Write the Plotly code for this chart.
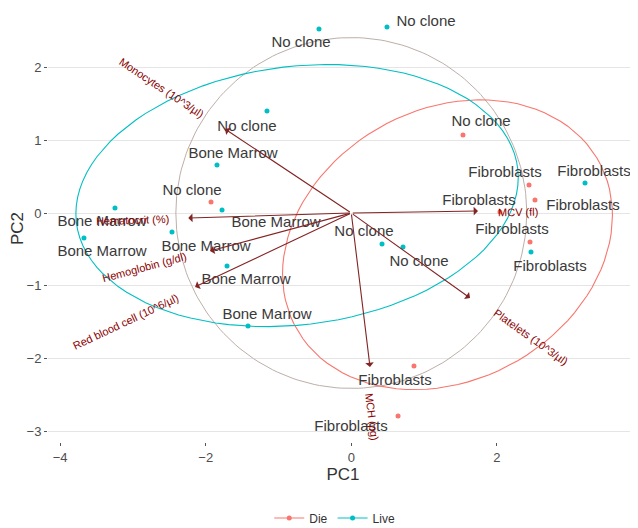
import numpy as np
import plotly.graph_objects as go

# ---------------- data ----------------
live_pc1 = [-0.444, 0.490, -1.158, -1.845, -1.776, -3.246, -3.672, -2.463, -1.707, -1.419, 0.422, 0.710, 3.210, 2.468]
live_pc2 = [2.527, 2.555, 1.401, 0.659, 0.041, 0.069, -0.343, -0.261, -0.728, -1.552, -0.426, -0.467, 0.412, -0.536]
live_labels = ["No clone", "No clone", "No clone", "Bone Marrow", "Bone Marrow", "Bone Marrow", "Bone Marrow",
               "Bone Marrow", "Bone Marrow", "Bone Marrow", "No clone", "No clone", "Fibroblasts", "Fibroblasts"]
live_label_pc1 = [-0.691, 1.026, -1.433, -1.625, -1.034, -3.424, -3.424, -1.996, -1.446, -1.158, 0.174, 0.930, 3.334, 2.729]
live_label_pc2 = [2.335, 2.624, 1.181, 0.810, -0.137, -0.124, -0.536, -0.467, -0.920, -1.401, -0.261, -0.673, 0.563, -0.742]

die_pc1 = [-1.927, 1.534, 2.441, 2.523, 2.042, 2.455, 0.861, 0.642]
die_pc2 = [0.151, 1.071, 0.385, 0.179, 0.014, -0.398, -2.102, -2.788]
die_labels = ["No clone", "No clone", "Fibroblasts", "Fibroblasts", "Fibroblasts", "Fibroblasts", "Fibroblasts", "Fibroblasts"]
die_label_pc1 = [-2.188, 1.782, 2.111, 3.182, 1.754, 2.207, 0.600, -0.004]
die_label_pc2 = [0.302, 1.250, 0.549, 0.096, 0.165, -0.234, -2.308, -2.940]

var_names = ["Monocytes (10^3/µl)", "Hematocrit (%)", "Hemoglobin (g/dl)", "Red blood cell (10^6/µl)",
             "Platelets (10^3/µl)", "MCH (pg)", "MCV (fl)"]
var_pc1 = [-1.735, -2.240, -1.941, -2.146, 1.631, 0.257, 1.740]
var_pc2 = [1.154, -0.069, -0.522, -1.016, -1.168, -2.115, 0.027]
var_label_pc1 = [-2.601, -3.010, -2.834, -3.108, 2.468, 0.284, 2.290]
var_label_pc2 = [1.717, -0.096, -0.742, -1.497, -1.703, -2.802, 0.014]

groups = ["Die", "Live"]
colors = {"Die": "#F8766D", "Live": "#00BFC4"}


def ellipse(x, y, prob=0.68, n=101):
    pts = np.column_stack([x, y])
    mu = pts.mean(axis=0)
    sigma = np.cov(pts.T)
    ed = np.sqrt(-2 * np.log(1 - prob))
    t = np.linspace(-np.pi, np.pi, n)
    circ = np.column_stack([np.cos(t), np.sin(t)])
    U = np.linalg.cholesky(sigma).T
    e = circ @ U * ed + mu
    return e[:, 0], e[:, 1]


fig = go.Figure()

# correlation circle
allx = np.array(live_pc1 + die_pc1)
ally = np.array(live_pc2 + die_pc2)
r = np.sqrt(-2 * np.log(1 - 0.69)) * (np.mean(allx ** 2) * np.mean(ally ** 2)) ** 0.25
th = np.linspace(-np.pi, np.pi, 200)
fig.add_trace(go.Scatter(x=r * np.cos(th), y=r * np.sin(th), mode="lines",
                         line=dict(color="#BDAFA9", width=1), showlegend=False, hoverinfo="skip"))

data = {"Die": (die_pc1, die_pc2, die_labels, die_label_pc1, die_label_pc2),
        "Live": (live_pc1, live_pc2, live_labels, live_label_pc1, live_label_pc2)}

for g in groups:
    x, y, lab, lx, ly = data[g]
    ex, ey = ellipse(x, y)
    fig.add_trace(go.Scatter(x=ex, y=ey, mode="lines", line=dict(color=colors[g], width=1.1),
                             showlegend=False, hoverinfo="skip"))

# arrows
for name, x, y in zip(var_names, var_pc1, var_pc2):
    fig.add_annotation(x=x, y=y, ax=0, ay=0, xref="x", yref="y", axref="x", ayref="y",
                       text="", showarrow=True, arrowhead=1, arrowsize=1.3, arrowwidth=1.1,
                       arrowcolor="#832424")

for g in groups:
    x, y, lab, lx, ly = data[g]
    fig.add_trace(go.Scatter(x=x, y=y, mode="markers", marker=dict(color=colors[g], size=5),
                             showlegend=False))
    fig.add_trace(go.Scatter(x=lx, y=ly, mode="text", text=lab,
                             textfont=dict(family="Liberation Sans, Arial", size=15, color="#3a3a3a"),
                             showlegend=False, hoverinfo="skip"))

# variable labels
for name, x, y, lx, ly in zip(var_names, var_pc1, var_pc2, var_label_pc1, var_label_pc2):
    ang = -np.degrees(np.arctan(y / x))
    fig.add_annotation(x=lx, y=ly, xref="x", yref="y", text=name, showarrow=False,
                       textangle=ang, xanchor="center", yanchor="middle",
                       font=dict(family="Liberation Sans, Arial", size=11, color="#8B0000"))

# legend entries
for g in groups:
    fig.add_trace(go.Scatter(x=[None], y=[None], mode="lines+markers", name=g,
                             line=dict(color=colors[g], width=1.1), marker=dict(color=colors[g], size=5)))

fig.update_layout(
    width=630, height=520,
    margin=dict(l=40, r=0, t=7, b=86, autoexpand=False),
    plot_bgcolor="white", paper_bgcolor="white",
    font=dict(family="Liberation Sans, Arial", color="#4D4D4D"),
    showlegend=True,
    legend=dict(orientation="h", x=0.486, xanchor="center", y=-0.178, yanchor="middle",
                font=dict(size=12, color="#333333")),
    xaxis=dict(range=[-4.166, 3.938], tickvals=[-4, -2, 0, 2], showgrid=False, zeroline=False,
               ticks="outside", ticklen=3, tickcolor="#555", tickfont=dict(size=13, color="#4D4D4D"),
               automargin=False,
               title=dict(text="PC1", font=dict(size=17, color="#333"), standoff=4)),
    yaxis=dict(range=[-3.146, 2.720], tickvals=[-3, -2, -1, 0, 1, 2], showgrid=True, gridcolor="#E5E5E5",
               gridwidth=1, zeroline=False, ticks="outside", ticklen=3, tickcolor="#555",
               tickfont=dict(size=13, color="#4D4D4D"), automargin=False,
               title=dict(text="PC2", font=dict(size=17, color="#333"), standoff=6)),
)

fig.write_html("out.html")
